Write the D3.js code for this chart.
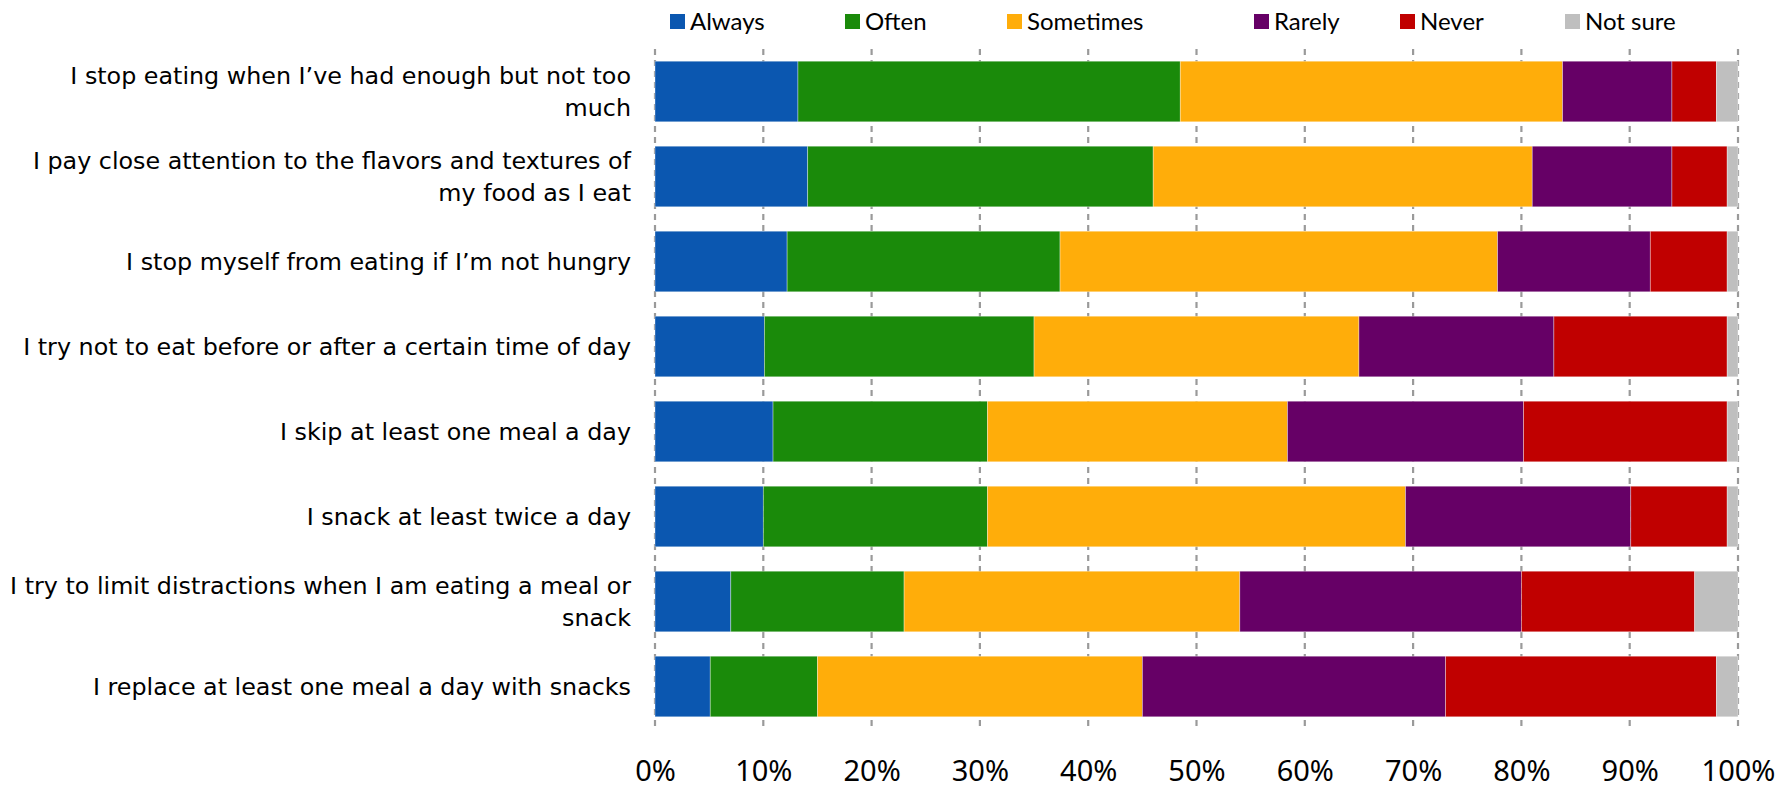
<!DOCTYPE html>
<html>
<head>
<meta charset="utf-8">
<script src="https://cdn.jsdelivr.net/npm/d3@7"></script>
<style>
  html, body { margin: 0; padding: 0; background: #fff; }
  svg { display: block; }
</style>
</head>
<body>
<svg id="chart" width="1782" height="788"></svg>
<script>
// ---------- DATA ----------
const categories = [
  "I stop eating when I’ve had enough but not too\nmuch",
  "I pay close attention to the flavors and textures of\nmy food as I eat",
  "I stop myself from eating if I’m not hungry",
  "I try not to eat before or after a certain time of day",
  "I skip at least one meal a day",
  "I snack at least twice a day",
  "I try to limit distractions when I am eating a meal or\nsnack",
  "I replace at least one meal a day with snacks"
];
const seriesNames = ["Always", "Often", "Sometimes", "Rarely", "Never", "Not sure"];
const always   = [13.2, 14.1, 12.2, 10.1, 10.9, 10.0,  7.0,  5.1];
const often    = [35.3, 31.9, 25.2, 24.9, 19.8, 20.7, 16.0,  9.9];
const sometimes= [35.3, 35.0, 40.4, 30.0, 27.7, 38.6, 31.0, 30.0];
const rarely   = [10.1, 12.9, 14.1, 18.0, 21.8, 20.8, 26.0, 28.0];
const never    = [ 4.1,  5.1,  7.1, 16.0, 18.8,  8.9, 16.0, 25.0];
const notSure  = [ 2.0,  1.0,  1.0,  1.0,  1.0,  1.0,  4.0,  2.0];
const tickValues = [0, 10, 20, 30, 40, 50, 60, 70, 80, 90, 100];
const tickLabels = ["0%", "10%", "20%", "30%", "40%", "50%", "60%", "70%", "80%", "90%", "100%"];
const colors = ["#0B57B0", "#1A8A0A", "#FFAD0A", "#660066", "#C00000", "#BFBFBF"];

// ---------- BUILD ----------
const seriesValues = [always, often, sometimes, rarely, never, notSure];
const table = categories.map((c, i) => {
  const row = { category: c };
  seriesNames.forEach((s, k) => row[s] = seriesValues[k][i]);
  return row;
});
const stacked = d3.stack().keys(seriesNames)(table);

const svg = d3.select("#chart");
const x = d3.scaleLinear().domain([0, 100]).range([655, 1738]);
const y = d3.scaleBand().domain(categories).range([49, 729]).paddingInner(0.287).paddingOuter(0.1435);
const color = d3.scaleOrdinal().domain(seriesNames).range(colors);

// gridlines
svg.append("g").selectAll("line").data(tickValues).join("line")
  .attr("x1", d => x(d)).attr("x2", d => x(d))
  .attr("y1", 49).attr("y2", 731)
  .attr("stroke", "#9a9a9a").attr("stroke-width", 2.2)
  .attr("stroke-dasharray", "6,5");

// bars
svg.append("g").selectAll("g").data(stacked).join("g")
  .attr("fill", d => color(d.key))
  .selectAll("rect").data(d => d).join("rect")
  .attr("x", d => x(d[0]))
  .attr("width", d => x(d[1]) - x(d[0]))
  .attr("y", d => y(d.data.category))
  .attr("height", y.bandwidth())
  .attr("stroke", "rgba(255,255,255,0.5)").attr("stroke-width", 0.7);

// category labels
const labelFont = "'DejaVu Sans', Tahoma, sans-serif";
const lab = svg.append("g").selectAll("text").data(categories).join("text")
  .attr("text-anchor", "end")
  .attr("font-family", labelFont)
  .attr("font-size", 23.8)
  .attr("fill", "#000");
lab.each(function(c) {
  const lines = c.split("\n");
  const cy = y(c) + y.bandwidth() / 2;
  const lh = 32;
  d3.select(this).selectAll("tspan").data(lines).join("tspan")
    .attr("x", 631)
    .attr("y", (l, i) => cy + (i - (lines.length - 1) / 2) * lh)
    .attr("dy", "0.35em")
    .text(l => l);
});

// x axis labels
const axis = d3.axisBottom(x).tickValues(tickValues)
  .tickFormat((d, i) => tickLabels[i]).tickSize(0).tickPadding(0);
const ax = svg.append("g").attr("transform", "translate(0,771)").call(axis);
ax.select(".domain").remove();
ax.selectAll("text")
  .attr("font-family", "'Noto Sans', 'Open Sans', sans-serif")
  .attr("font-size", 29).attr("fill", "#000")
  .attr("dy", "0.35em").attr("y", 0);

// legend
const legendX = [670, 845, 1007, 1254, 1400, 1565];
const lg = svg.append("g").selectAll("g").data(seriesNames).join("g")
  .attr("transform", (d, i) => `translate(${legendX[i]},14)`);
lg.append("rect").attr("width", 15).attr("height", 15).attr("fill", d => color(d));
lg.append("text").attr("x", 20).attr("y", 7.5).attr("dy", "0.35em")
  .attr("font-family", "Lato, 'Open Sans', sans-serif")
  .attr("font-size", 24).attr("fill", "#000")
  .text(d => d);
</script>
</body>
</html>
